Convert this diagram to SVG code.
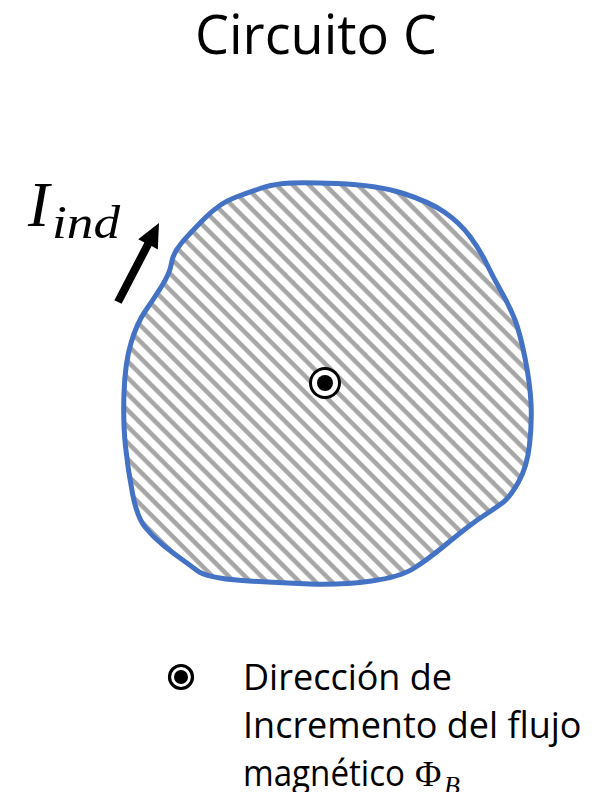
<svg xmlns="http://www.w3.org/2000/svg" width="594" height="792" viewBox="0 0 594 792">
<defs>
<pattern id="hatch" patternUnits="userSpaceOnUse" width="11.5" height="11.5" patternTransform="rotate(-45)">
<rect x="0" y="0" width="11.5" height="11.5" fill="#ffffff"/>
<rect x="5" y="0" width="4.5" height="11.5" fill="#a6a6a6"/>
</pattern>
<style>
.title{font-family:"Open Sans","Noto Sans",sans-serif;font-size:54px;fill:#000}
.legend{font-family:"Open Sans","Noto Sans",sans-serif;font-size:36px;fill:#000}
.math{font-family:"Liberation Serif","DejaVu Serif",serif;fill:#000}
</style>
</defs>
<rect width="594" height="792" fill="#ffffff"/>
<text class="title" x="316" y="54" text-anchor="middle">Circuito C</text>
<g id="circuit">
<path d="M283.5,183.5 Q297,182 337,183.5 Q377,185 403.5,193.5 Q430,202 445,212.5 Q460,223 470,236.5 Q480,250 486.5,263.5 Q493,277 501.5,292 Q510,307 515,320 Q520,333 525,358 Q530,383 531,403 Q532,423 529.5,445 Q527,467 518.5,482 Q510,497 503.5,502 Q497,507 487,513.5 Q477,520 468.5,526.5 Q460,533 443.5,546.5 Q427,560 413.5,568.5 Q400,577 371.5,581 Q343,585 310,584 Q277,583 242,580.5 Q207,578 197,570.5 Q187,563 180,558 Q173,553 163,545 Q153,537 145,527 Q137,517 132.5,493.5 Q128,470 125.5,446.5 Q123,423 124,393 Q125,363 131,343 Q137,323 145,311.5 Q153,300 161.5,286.5 Q170,273 171.5,263 Q173,253 181.5,243 Q190,233 205,218 Q220,203 235,197.5 Q250,192 260,188.5 Q270,185 283.5,183.5 Z" fill="url(#hatch)" stroke="#4472c4" stroke-width="5" stroke-linejoin="round"/>
</g>
<g id="flux-symbol">
<circle cx="325" cy="383" r="14.5" fill="#ffffff" stroke="#000" stroke-width="3"/>
<circle cx="325" cy="383" r="8" fill="#000"/>
</g>
<g id="current">
<polygon points="114.4,300.2 144.4,242.5 138.2,239.2 159,223 157.8,249.4 151.6,246.1 121.6,303.8" fill="#000"/>
<text class="math" x="28" y="226" font-size="64" font-style="italic">I</text>
<text class="math" x="52" y="238" font-size="47" font-style="italic" textLength="68" lengthAdjust="spacingAndGlyphs">ind</text>
</g>
<g id="legend">
<circle cx="181" cy="677" r="11.5" fill="#ffffff" stroke="#000" stroke-width="3.2"/>
<circle cx="181" cy="677" r="7" fill="#000"/>
<text class="legend" x="243" y="690">Dirección de</text>
<text class="legend" x="243" y="738">Incremento del flujo</text>
<text class="legend" x="243" y="786" textLength="162" lengthAdjust="spacingAndGlyphs">magnético</text>
<text class="math" x="415" y="786" font-size="36">Φ</text>
<text class="math" x="444" y="794" font-size="26" font-style="italic">B</text>
</g>
<g id="connectors"/>
</svg>
